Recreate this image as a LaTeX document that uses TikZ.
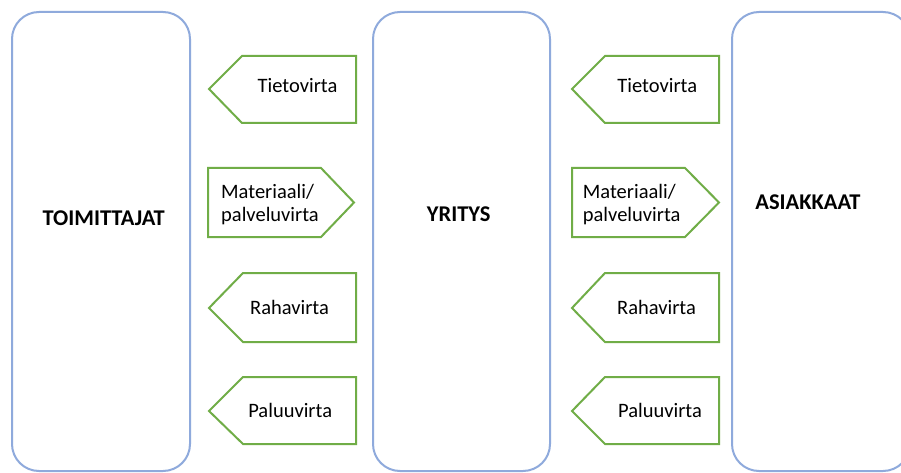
\documentclass[tikz,border=0pt]{standalone}
\usepackage{fontspec}
\setmainfont{Carlito}
\begin{document}
\definecolor{panelblue}{HTML}{8FAADC}
\definecolor{flowgreen}{HTML}{70AD47}
\begin{tikzpicture}[x=1pt,y=-1pt,
  panel/.style={draw=panelblue,line width=2pt,rounded corners=27pt},
  flow/.style={draw=flowgreen,line width=2pt,line join=miter},
  title/.style={font=\fontsize{22.5}{26}\selectfont\bfseries,inner sep=0pt,anchor=base},
  lbl/.style={font=\fontsize{20.5}{23}\selectfont,inner sep=0pt,anchor=base},
  lbll/.style={font=\fontsize{20.5}{23}\selectfont,inner sep=0pt,anchor=base west}]
\clip (0,0) rectangle (901,473);
\fill[white] (0,0) rectangle (901,473);

% the three parties
\draw[panel] (12,12) rectangle (190,471);
\draw[panel] (373,12) rectangle (550,471);
\draw[panel] (732,12) rectangle (910,471);
\node[title] (toim) at (103.7,225.7) {TOIMITTAJAT};
\node[title] (yri)  at (458.7,221.7) {YRITYS};
\node[title] (asi)  at (808,209.3)   {ASIAKKAAT};

% flows between suppliers and company
\draw[flow] (209,89) -- (242,56) -- (356,56) -- (356,123) -- (242,123) -- cycle;
\node[lbl] (tieto1) at (297.5,93) {Tietovirta};
\draw[flow] (208,168) -- (321,168) -- (354,202.5) -- (321,237) -- (208,237) -- cycle;
\node[lbll] (mat1a) at (221,198) {Materiaali/};
\node[lbll] (mat1b) at (221,221) {palveluvirta};
\draw[flow] (209,308) -- (243,273) -- (356,273) -- (356,342) -- (243,342) -- cycle;
\node[lbl] (raha1) at (289.5,314) {Rahavirta};
\draw[flow] (209,411) -- (243,377) -- (356,377) -- (356,444) -- (243,444) -- cycle;
\node[lbl] (paluu1) at (290.2,417.7) {Paluuvirta};

% flows between company and customers
\draw[flow] (572,89) -- (605,56) -- (719,56) -- (719,123) -- (605,123) -- cycle;
\node[lbl] (tieto2) at (657.3,93) {Tietovirta};
\draw[flow] (572,168) -- (685,168) -- (719,202.5) -- (685,237) -- (572,237) -- cycle;
\node[lbll] (mat2a) at (582.7,198) {Materiaali/};
\node[lbll] (mat2b) at (582.7,221) {palveluvirta};
\draw[flow] (572,308) -- (605,273) -- (719,273) -- (719,342) -- (605,342) -- cycle;
\node[lbl] (raha2) at (656.5,314) {Rahavirta};
\draw[flow] (572,411) -- (605,377) -- (719,377) -- (719,444) -- (605,444) -- cycle;
\node[lbl] (paluu2) at (660,417.7) {Paluuvirta};
\end{tikzpicture}
\end{document}
